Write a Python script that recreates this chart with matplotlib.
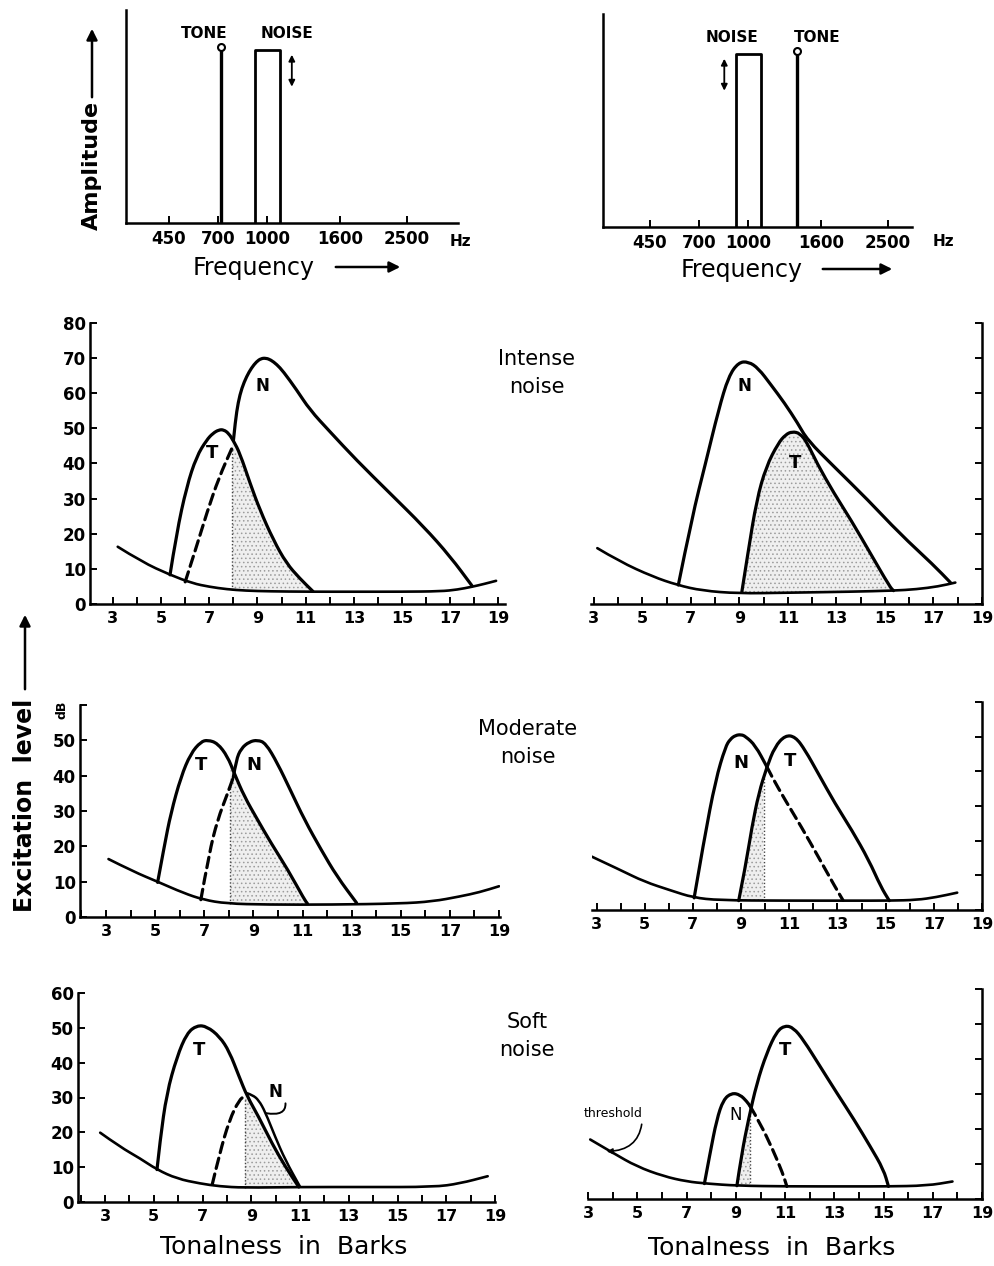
import numpy as np
import matplotlib
matplotlib.use('Agg')
import matplotlib.pyplot as plt
from matplotlib.path import Path
from matplotlib.patches import PathPatch, FancyArrowPatch

plt.rcParams['font.family'] = ['DejaVu Sans']
plt.rcParams['hatch.linewidth'] = 0.6

W, H = 995, 1266

# --- top: stimulus spectra ---
freq_ticks = [450, 700, 1000, 1600, 2500]
tone_left_hz = 720
tone_right_hz = 1370
noise_band_hz = [920, 1090]
line_level = 0.81

# --- excitation patterns (Bark, dB) ---
# intense noise, tone below noise
il_thr_x = [3.2, 4.2, 5.37, 6.3, 7.0, 7.73, 8.5, 9.5, 11.05, 13, 15, 16.6, 17.3, 17.9, 18.4, 18.9]
il_thr_y = [16.3, 12.0, 8.3, 5.9, 4.9, 4.2, 3.8, 3.6, 3.5, 3.5, 3.5, 3.6, 4.1, 4.9, 5.7, 6.6]
il_t_x = [5.37, 5.64, 6.06, 6.47, 6.89, 7.15, 7.4, 7.6, 7.8, 8.0, 8.27, 8.69, 9.1, 9.66, 10.2, 10.75, 11.3]
il_t_y = [8.3, 20.1, 33.4, 42, 46.7, 48.6, 49.6, 49.6, 48.6, 46.5, 42.9, 34.4, 26.8, 18.2, 11.6, 7.3, 3.6]
il_nd_x = [6.0, 6.5, 6.9, 7.4, 7.95]
il_nd_y = [6.3, 17, 26, 36, 44.5]
il_n_x = [8.0, 8.08, 8.2, 8.35, 8.55, 8.75, 8.96, 9.15, 9.35, 9.55, 9.8, 10.07, 10.62, 11.17,
          12.0, 13.1, 14.5, 15.9, 17.0, 17.9]
il_n_y = [46.5, 52, 57.5, 61.5, 64.8, 67.2, 69, 69.9, 70, 69.5, 68.2, 66.2, 61, 55.3,
          49.1, 41, 31.5, 22, 13.5, 5.2]
il_edge = 7.95

# intense noise, tone above noise
ir_thr_x = [3.14, 4.06, 5.42, 6.44, 7.46, 8.96, 10.86, 13.6, 15.35, 16.3, 17.2, 17.9]
ir_thr_y = [15.9, 12.1, 7.8, 5.4, 3.8, 3.0, 3.2, 3.5, 3.8, 4.2, 5.0, 6.1]
ir_n_x = [6.48, 7.05, 7.6, 8.14, 8.55, 8.96, 9.37, 9.78, 10.3, 10.86, 11.4, 11.8, 12.9, 14.3, 15.6, 17.0, 17.7]
ir_n_y = [5.4, 24.9, 40, 55.3, 64.8, 68.8, 69, 67.1, 62.4, 57.2, 51.5, 46.7, 39.1, 29.6, 20.1, 11.1, 6.1]
ir_t_x = [9.1, 9.37, 9.71, 10.1, 10.6, 10.9, 11.17, 11.5, 11.8, 12.2, 12.9, 13.6, 14.4, 15.2, 15.35]
ir_t_y = [3.5, 15.4, 29.6, 39.1, 45.8, 48.2, 49.1, 48.6, 45.8, 40, 31.5, 23.9, 14.4, 4.9, 3.8]

# moderate noise, tone below noise
ml_thr_x = [3.1, 4.1, 5.13, 6.15, 6.96, 7.9, 9.54, 12.2, 14.97, 16.3, 17.4, 18.2, 19.0]
ml_thr_y = [16.4, 12.9, 9.9, 6.8, 4.9, 3.8, 3.5, 3.5, 3.8, 4.4, 5.8, 7.0, 8.7]
ml_t_x = [5.1, 5.37, 5.64, 6.05, 6.45, 6.86, 7.14, 7.54, 7.95, 8.22, 8.63, 9.17, 9.72, 10.4, 11.08, 11.2]
ml_t_y = [9.8, 20, 29.4, 39.7, 46.3, 49.6, 50.1, 49.2, 45.4, 40.7, 34.1, 27.5, 20.9, 13.4, 4.9, 3.8]
ml_nd_x = [6.86, 7.2, 7.54, 7.95, 8.18]
ml_nd_y = [4.9, 18.1, 27.5, 35, 39.5]
ml_n_x = [8.18, 8.3, 8.5, 8.83, 9.17, 9.5, 9.98, 10.5, 11.08, 11.76, 12.4, 13.2]
ml_n_y = [39.5, 44.5, 47.7, 49.6, 50.1, 49.2, 43.5, 36, 27.5, 19, 11.5, 4.0]
ml_edge = 8.05

# moderate noise, tone above noise
mr_thr_x = [2.8, 4.0, 4.97, 6.1, 7.0, 8.08, 10.8, 13.6, 15.2, 16.3, 17.1, 17.97]
mr_thr_y = [15.4, 11.5, 8.2, 5.6, 3.6, 2.8, 2.7, 2.7, 2.7, 2.9, 3.7, 5.0]
mr_n_x = [7.05, 7.46, 7.94, 8.35, 8.55, 8.77, 9.0, 9.18, 9.59, 10.07]
mr_n_y = [3.5, 20.2, 37.5, 47.1, 49.3, 50.4, 50.6, 50.1, 47.5, 41.3]
mr_nd_x = [10.07, 10.28, 10.83, 11.5, 12.2, 12.9, 13.23]
mr_nd_y = [41.3, 38.4, 31.7, 24, 15.4, 6.7, 2.8]
mr_t_x = [8.9, 9.18, 9.45, 9.73, 10.07, 10.4, 10.83, 11.25, 11.66, 12.2, 12.9, 13.6, 14.3, 14.8, 15.15]
mr_t_y = [2.7, 12.5, 24, 33.6, 41.3, 47.1, 50.4, 50, 46.1, 39.4, 30.7, 23, 14.4, 6.7, 2.7]
mr_edge = 9.93

# soft noise, tone below noise
sl_thr_x = [2.8, 3.62, 4.44, 5.13, 5.95, 6.9, 7.7, 8.66, 11.0, 13.7, 16.5, 17.55, 18.7]
sl_thr_y = [19.9, 15.8, 12.5, 9.3, 6.7, 5.3, 4.5, 4.1, 4.3, 4.3, 4.3, 5.3, 7.4]
sl_t_x = [5.13, 5.26, 5.53, 5.95, 6.36, 6.77, 7.18, 7.7, 8.1, 8.5, 8.84, 9.3, 9.85, 10.4, 10.95]
sl_t_y = [9.3, 17.8, 31.2, 41.7, 48.5, 50.7, 50.4, 47.5, 43.2, 36, 30.2, 24.5, 16.8, 10.1, 4.3]
sl_nd_x = [7.4, 7.7, 8.1, 8.5, 8.75]
sl_nd_y = [5.1, 13.9, 23.5, 29.3, 30.5]
sl_n_x = [8.84, 9.05, 9.3, 9.57, 9.98, 10.4, 11.0]
sl_n_y = [31.2, 30.7, 29.3, 25.9, 18.7, 12, 4.4]
sl_edge = 8.74

# soft noise, tone above noise
sr_thr_x = [3.08, 4.02, 4.97, 6.06, 7.0, 7.82, 9.04, 11.07, 13.8, 15.1, 16.77, 17.8]
sr_thr_y = [17, 13.1, 9.3, 6.5, 5.0, 4.4, 3.8, 3.6, 3.6, 3.6, 3.8, 5.0]
sr_n_x = [7.72, 7.95, 8.22, 8.49, 8.83, 9.17, 9.44, 9.58]
sr_n_y = [4.4, 13.1, 22.7, 28.4, 30.3, 29.8, 27.9, 26.5]
sr_nd_x = [9.58, 9.98, 10.5, 10.9, 11.07]
sr_nd_y = [26.5, 21.7, 14.1, 7.4, 3.6]
sr_t_x = [9.04, 9.24, 9.51, 9.85, 10.25, 10.66, 11.0, 11.34, 11.74, 12.42, 13.1, 13.8, 14.46, 15.0, 15.2]
sr_t_y = [3.8, 13.1, 22.7, 33.1, 41.7, 47.9, 49.6, 48.9, 45.5, 37.9, 30.3, 22.7, 15, 8.4, 3.6]
sr_edge = 9.58


def bark(f):
    f = np.asarray(f, dtype=float)
    return 13 * np.arctan(0.00076 * f) + 3.5 * np.arctan((f / 7500.0) ** 2)


def box(l, r, t, b):
    return [l / W, 1 - b / H, (r - l) / W, (b - t) / H]


def bold_ticks(ax):
    plt.setp(ax.get_xticklabels(), fontweight='bold')
    plt.setp(ax.get_yticklabels(), fontweight='bold')


def fig_arrow(x0, y0, x1, y1):
    fig.add_artist(FancyArrowPatch((x0 / W, 1 - y0 / H), (x1 / W, 1 - y1 / H),
                                   transform=fig.transFigure, arrowstyle='-|>',
                                   mutation_scale=16, lw=1.8, color='k'))


fig = plt.figure(figsize=(W / 100, H / 100), dpi=100)


def spectrum_axes(l, r, t, b, px450):
    ax = fig.add_axes(box(l, r, t, b))
    ax.set_xlim(bark(450) - (px450 - l) / 23.3, bark(450) + (r - px450) / 23.3)
    ax.set_ylim(0, 1)
    ax.spines['top'].set_visible(False)
    ax.spines['right'].set_visible(False)
    ax.spines['left'].set_linewidth(1.8)
    ax.spines['bottom'].set_linewidth(1.8)
    ax.set_yticks([])
    ax.set_xticks(bark(freq_ticks))
    ax.set_xticklabels([str(f) for f in freq_ticks])
    ax.tick_params(axis='x', direction='in', length=5, width=1.4, labelsize=12, pad=5)
    ax.patch.set_alpha(0)
    bold_ticks(ax)
    return ax


def draw_spectrum(ax, tone_hz, arrow_side):
    zt = float(bark(tone_hz))
    z1, z2 = bark(noise_band_hz)
    ax.plot([zt, zt], [0, line_level], color='k', lw=2.4, solid_capstyle='butt')
    ax.plot(zt, line_level + 0.015, 'o', ms=5, mfc='white', mec='k', mew=1.5)
    ax.plot([z1, z1, z2, z2], [0, line_level, line_level, 0], color='k', lw=2.0)
    xa = z2 + 0.5 if arrow_side > 0 else z1 - 0.5
    ax.annotate('', xy=(xa, 0.64), xytext=(xa, 0.79),
                arrowprops=dict(arrowstyle='<|-|>', color='k', lw=1.3, mutation_scale=9,
                                shrinkA=0, shrinkB=0))
    zn = (z1 + z2) / 2
    tone_off = -0.75 if arrow_side > 0 else 0.9
    noise_off = 0.85 if arrow_side > 0 else -0.7
    ax.text(zt + tone_off, 0.89, 'TONE', ha='center', va='center', fontsize=11, fontweight='bold')
    ax.text(zn + noise_off, 0.89, 'NOISE', ha='center', va='center', fontsize=11, fontweight='bold')


ax = spectrum_axes(126, 458, 10, 223, 169)
draw_spectrum(ax, tone_left_hz, 1)
ax = spectrum_axes(603, 912, 14, 227, 650)
draw_spectrum(ax, tone_right_hz, -1)

fig.text(450 / W, 1 - 242 / H, 'Hz', fontsize=11, fontweight='bold', va='center')
fig.text(933 / W, 1 - 242 / H, 'Hz', fontsize=11, fontweight='bold', va='center')
fig.text(254 / W, 1 - 268 / H, 'Frequency', fontsize=17, ha='center', va='center')
fig.text(742 / W, 1 - 270 / H, 'Frequency', fontsize=17, ha='center', va='center')
fig_arrow(333, 267, 403, 267)
fig_arrow(820, 269, 895, 269)
fig.text(92 / W, 1 - 165 / H, 'Amplitude', fontsize=16, fontweight='bold', rotation=90,
         ha='center', va='center')
fig_arrow(92, 100, 92, 26)


def excitation_axes(l, r, t, b, xlim, ymax, side):
    ax = fig.add_axes(box(l, r, t, b))
    ax.set_xlim(xlim)
    ax.set_ylim(0, ymax)
    for s in ax.spines.values():
        s.set_visible(False)
    for s in ('bottom', side):
        ax.spines[s].set_visible(True)
        ax.spines[s].set_linewidth(1.8)
    ax.set_xticks(np.arange(3, 20, 2))
    ax.set_xticks([v for v in range(2, 20, 2) if xlim[0] <= v <= xlim[1]], minor=True)
    ax.tick_params(axis='x', which='both', direction='in', length=5, width=1.4,
                   labelsize=11.5, pad=5)
    ax.set_yticks(np.arange(0, ymax + 1, 10))
    if side == 'left':
        ax.tick_params(axis='y', direction='in', length=5, width=1.4, labelsize=12, pad=3)
    else:
        ax.yaxis.tick_right()
        ax.tick_params(axis='y', direction='in', length=5, width=1.4, labelright=False)
    ax.patch.set_alpha(0)
    bold_ticks(ax)
    return ax


def shade(ax, x0, x1, cx, cy, tx, ty):
    cx, cy, tx, ty = map(np.asarray, (cx, cy, tx, ty))
    m = (cx > x0) & (cx < x1)
    mb = (tx > x0) & (tx < x1)
    px = np.r_[x0, cx[m], x1, x1, tx[mb][::-1], x0]
    py = np.r_[np.interp(x0, cx, cy), cy[m], np.interp(x1, cx, cy),
               np.interp(x1, tx, ty), ty[mb][::-1], np.interp(x0, tx, ty)]
    ax.fill(px, py, facecolor='#efefef', edgecolor='#9c9c9c', hatch='....', lw=0, zorder=1)


def edge_line(ax, x0, top, tx, ty):
    ax.plot([x0, x0], [np.interp(x0, tx, ty), top], color='#444444', lw=1.0,
            linestyle=(0, (1, 1.5)), zorder=2)


def curve(ax, x, y, lw=2.3, dashed=False):
    # smooth pen stroke through the read points (quadratic bezier via midpoints)
    pts = np.column_stack([x, y]).astype(float)
    verts = [pts[0]]
    codes = [Path.MOVETO]
    for i in range(1, len(pts) - 1):
        verts += [pts[i], (pts[i] + pts[i + 1]) / 2]
        codes += [Path.CURVE3, Path.CURVE3]
    verts.append(pts[-1])
    codes.append(Path.LINETO)
    ls = (0, (3.3, 1.8)) if dashed else '-'
    ax.add_patch(PathPatch(Path(verts, codes), facecolor='none', edgecolor='k', lw=lw,
                           linestyle=ls, capstyle='round', joinstyle='round', zorder=3))


# intense, left
ax = excitation_axes(90, 505, 323, 604, (2.05, 19.27), 80, 'left')
shade(ax, il_edge, il_t_x[-1], il_t_x, il_t_y, il_thr_x, il_thr_y)
edge_line(ax, il_edge, il_nd_y[-1], il_thr_x, il_thr_y)
curve(ax, il_thr_x, il_thr_y, lw=1.9)
curve(ax, il_t_x, il_t_y)
curve(ax, il_nd_x, il_nd_y, dashed=True)
curve(ax, il_n_x, il_n_y)
ax.text(7.1, 43, 'T', fontsize=13, fontweight='bold', ha='center', va='center')
ax.text(9.2, 62, 'N', fontsize=12, fontweight='bold', ha='center', va='center')

# intense, right
ax = excitation_axes(591, 982, 323, 604, (2.88, 19.0), 80, 'right')
shade(ax, ir_t_x[0], ir_t_x[-1], ir_t_x, ir_t_y, ir_thr_x, ir_thr_y)
curve(ax, ir_thr_x, ir_thr_y, lw=1.9)
curve(ax, ir_n_x, ir_n_y)
curve(ax, ir_t_x, ir_t_y)
ax.text(11.3, 40, 'T', fontsize=13, fontweight='bold', ha='center', va='center')
ax.text(9.2, 62, 'N', fontsize=12, fontweight='bold', ha='center', va='center')

# moderate, left
ax = excitation_axes(80, 500, 705, 917, (1.94, 19.04), 60, 'left')
ax.set_yticklabels([str(v) for v in range(0, 51, 10)] + [''])
bold_ticks(ax)
shade(ax, ml_edge, ml_t_x[-1], ml_t_x, ml_t_y, ml_thr_x, ml_thr_y)
edge_line(ax, ml_edge, 38, ml_thr_x, ml_thr_y)
curve(ax, ml_thr_x, ml_thr_y, lw=1.9)
curve(ax, ml_t_x, ml_t_y)
curve(ax, ml_nd_x, ml_nd_y, dashed=True)
curve(ax, ml_n_x, ml_n_y)
ax.text(6.86, 43, 'T', fontsize=13, fontweight='bold', ha='center', va='center')
ax.text(9.0, 43, 'N', fontsize=13, fontweight='bold', ha='center', va='center')
fig.text(62 / W, 1 - 710 / H, 'dB', fontsize=9, fontweight='bold', rotation=90,
         ha='center', va='center')

# moderate, right
ax = excitation_axes(592, 982, 702, 910, (2.81, 18.95), 60, 'right')
shade(ax, mr_t_x[0], mr_edge, mr_t_x, mr_t_y, mr_thr_x, mr_thr_y)
edge_line(ax, mr_edge, 38, mr_thr_x, mr_thr_y)
curve(ax, mr_thr_x, mr_thr_y, lw=1.9)
curve(ax, mr_n_x, mr_n_y)
curve(ax, mr_nd_x, mr_nd_y, dashed=True)
curve(ax, mr_t_x, mr_t_y)
ax.text(9.0, 42.5, 'N', fontsize=13, fontweight='bold', ha='center', va='center')
ax.text(11.05, 43, 'T', fontsize=13, fontweight='bold', ha='center', va='center')

# soft, left
ax = excitation_axes(78, 495, 993, 1202, (1.89, 19.0), 60, 'left')
shade(ax, sl_edge, sl_t_x[-1], sl_t_x, sl_t_y, sl_thr_x, sl_thr_y)
edge_line(ax, sl_edge, 30, sl_thr_x, sl_thr_y)
curve(ax, sl_thr_x, sl_thr_y, lw=1.9)
curve(ax, sl_t_x, sl_t_y)
curve(ax, sl_nd_x, sl_nd_y, dashed=True)
curve(ax, sl_n_x, sl_n_y, lw=1.8)
ax.text(6.84, 43.5, 'T', fontsize=13, fontweight='bold', ha='center', va='center')
ax.annotate('N', xy=(9.6, 25.5), xytext=(10.0, 31.5), fontsize=12, fontweight='bold',
            ha='center', va='center',
            arrowprops=dict(arrowstyle='-', lw=1.4, color='k', relpos=(1, 0.5),
                            connectionstyle='arc3,rad=-0.9', shrinkA=1, shrinkB=0))

# soft, right
ax = excitation_axes(588, 982, 989, 1199, (2.99, 19.0), 60, 'right')
shade(ax, sr_t_x[0], sr_edge, sr_t_x, sr_t_y, sr_thr_x, sr_thr_y)
edge_line(ax, sr_edge, 26, sr_thr_x, sr_thr_y)
curve(ax, sr_thr_x, sr_thr_y, lw=1.9)
curve(ax, sr_n_x, sr_n_y)
curve(ax, sr_nd_x, sr_nd_y, dashed=True)
curve(ax, sr_t_x, sr_t_y)
ax.text(11.0, 42.7, 'T', fontsize=13, fontweight='bold', ha='center', va='center')
ax.text(8.97, 24, 'N', fontsize=12, ha='center', va='center')
ax.annotate('threshold', xy=(3.75, 13.6), xytext=(4.0, 24.4), fontsize=9,
            ha='center', va='center', annotation_clip=False,
            arrowprops=dict(arrowstyle='-|>', lw=1.2, color='k', relpos=(1, 0.5),
                            mutation_scale=8, connectionstyle='arc3,rad=-0.5',
                            shrinkA=1, shrinkB=0))

# panel captions
fig.text(537 / W, 1 - 373 / H, 'Intense\nnoise', fontsize=15, ha='center', va='center',
         linespacing=1.5)
fig.text(528 / W, 1 - 743 / H, 'Moderate\nnoise', fontsize=15, ha='center', va='center',
         linespacing=1.5)
fig.text(527 / W, 1 - 1036 / H, 'Soft\nnoise', fontsize=15, ha='center', va='center',
         linespacing=1.5)

fig.text(284 / W, 1 - 1247 / H, 'Tonalness  in  Barks', fontsize=18, ha='center', va='center')
fig.text(772 / W, 1 - 1248 / H, 'Tonalness  in  Barks', fontsize=18, ha='center', va='center')

fig.text(25 / W, 1 - 805 / H, 'Excitation  level', fontsize=17, fontweight='bold',
         rotation=90, ha='center', va='center')
fig_arrow(25, 692, 25, 612)

fig.savefig('out.png', dpi=100, facecolor='white')
